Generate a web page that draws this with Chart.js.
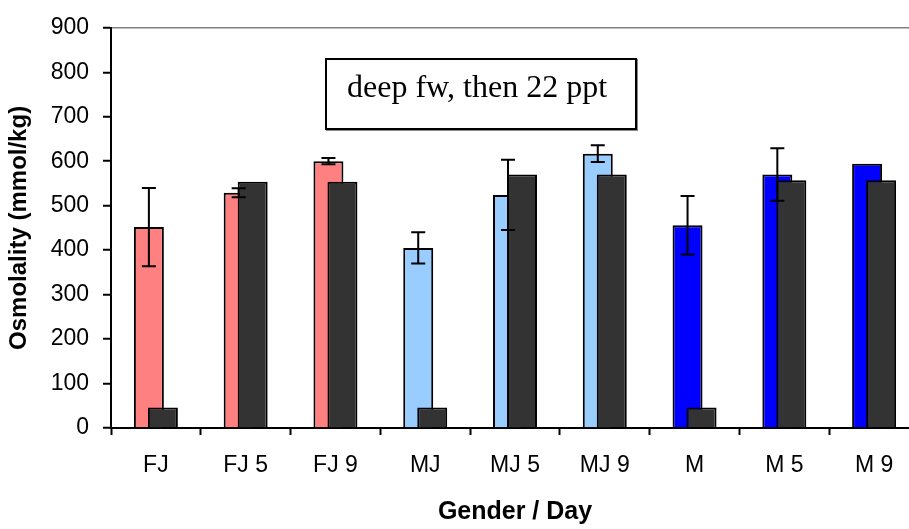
<!DOCTYPE html>
<html>
<head>
<meta charset="utf-8">
<script src="https://cdn.jsdelivr.net/npm/chart.js@4"></script>
<style>
    html, body { margin: 0; padding: 0; background: #fff; overflow: hidden; }
    #wrap { position: relative; width: 919px; height: 529px; }
    #note {
        position: absolute; left: 325px; top: 58px; width: 288px; height: 60px;
        border: 2px solid #000; box-shadow: 1px 1px 0 #888; background: #fff;
        font-family: "Liberation Serif", "Times New Roman", serif; font-size: 32px;
        line-height: 36px; padding: 8px 0 0 20px; color: #000; white-space: nowrap;
    }
</style>
</head>
<body>
<div id="wrap">
    <canvas id="osmoChart" width="919" height="529"></canvas>
    <div id="note">deep fw, then 22 ppt</div>
</div>
<script>
// --- DATA ---
const categories = ['FJ', 'FJ 5', 'FJ 9', 'MJ', 'MJ 5', 'MJ 9', 'M', 'M 5', 'M 9'];
const fishValues = [452, 529, 600, 405, 524, 617, 456, 570, 594];
const fishErrors = [88, 10, 7, 35, 79, 19, 66, 59, 0];
const waterValues = [46, 554, 554, 46, 570, 570, 46, 557, 557];
const fishColors = ['#FF8080', '#FF8080', '#FF8080', '#99CCFF', '#99CCFF', '#99CCFF', '#0000FF', '#0000FF', '#0000FF'];
const yMin = 0, yMax = 900, yStep = 100;

// Chart.js paints dataset 1 before dataset 0; hold the dark bars back
// and paint them right after the coloured ones so they overlap on top
const overlapOrder = {
    id: 'overlapOrder',
    beforeDatasetDraw(chart, args) {
        if (args.index === 1 && !chart.$darkNow) return false;
    },
    afterDatasetDraw(chart, args) {
        if (args.index === 0) {
            chart.$darkNow = true;
            chart.getDatasetMeta(1).controller.draw();
            chart.$darkNow = false;
        }
    }
};

// error bars on the first series, drawn over both sets of bars
const errorBars = {
    id: 'errorBars',
    afterDatasetsDraw(chart) {
        const meta = chart.getDatasetMeta(0);
        const y = chart.scales.y;
        const c = chart.ctx;
        c.save();
        c.strokeStyle = '#000';
        c.lineWidth = 2;
        meta.data.forEach((bar, i) => {
            const err = fishErrors[i];
            if (!err) return;
            const top = y.getPixelForValue(fishValues[i] + err);
            const bot = y.getPixelForValue(fishValues[i] - err);
            c.beginPath();
            c.moveTo(bar.x, top); c.lineTo(bar.x, bot);
            c.moveTo(bar.x - 7, top); c.lineTo(bar.x + 7, top);
            c.moveTo(bar.x - 7, bot); c.lineTo(bar.x + 7, bot);
            c.stroke();
        });
        c.restore();
    }
};

const ctx = document.getElementById('osmoChart').getContext('2d');
new Chart(ctx, {
    type: 'bar',
    data: {
        labels: categories,
        datasets: [
            { label: 'Fish', data: fishValues, backgroundColor: fishColors, borderColor: '#000', borderWidth: 2 },
            { label: 'Water', data: waterValues, backgroundColor: '#333333', borderColor: '#000', borderWidth: 2 }
        ]
    },
    options: {
        responsive: false,
        animation: false,
        categoryPercentage: 0.312,
        barPercentage: 2.14,
        layout: { padding: { top: 19, left: 0, right: 0, bottom: 0 } },
        plugins: { legend: { display: false }, tooltip: { enabled: false } },
        scales: {
            x: {
                offset: true,
                afterFit: s => { s.height = 101; },
                border: { color: '#000', width: 2 },
                grid: { offset: true, drawOnChartArea: false, tickColor: '#000', tickLength: 7, tickWidth: 2 },
                ticks: { color: '#000', padding: 17, font: { family: 'Liberation Sans, Arial', size: 23 }, maxRotation: 0 },
                title: { display: true, text: 'Gender / Day', color: '#000', padding: { bottom: 2, top: 0 },
                         font: { family: 'Liberation Sans, Arial', size: 25, weight: 'bold' } }
            },
            y: {
                min: yMin, max: yMax,
                afterFit: s => { s.width = 111; },
                border: { color: '#000', width: 2 },
                grid: {
                    color: c => c.tick && c.tick.value === yMax ? '#808080' : 'transparent',
                    lineWidth: 1.5,
                    tickColor: '#000', tickLength: 8, tickWidth: 2
                },
                ticks: { stepSize: yStep, color: '#000', padding: 14, font: { family: 'Liberation Sans, Arial', size: 23 } },
                title: { display: true, text: 'Osmolality (mmol/kg)', color: '#000', padding: { top: 5, bottom: 0 },
                         font: { family: 'Liberation Sans, Arial', size: 24, weight: 'bold' } }
            }
        }
    },
    plugins: [overlapOrder, errorBars]
});
</script>
</body>
</html>
